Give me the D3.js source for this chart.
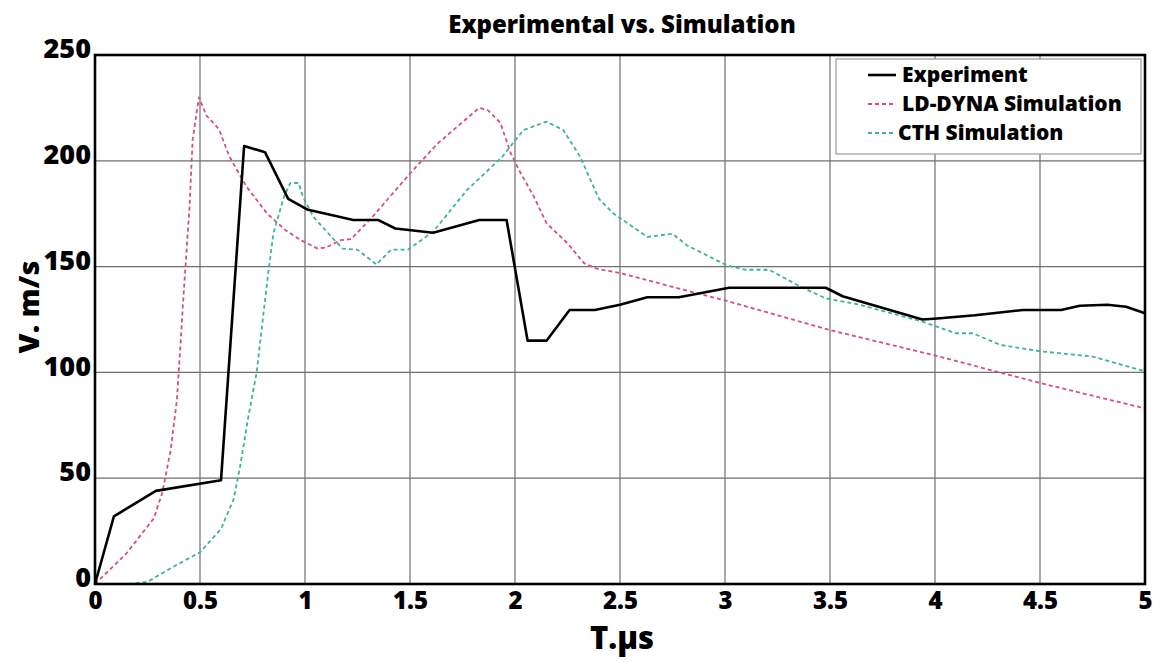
<!DOCTYPE html>
<html>
<head>
<meta charset="utf-8">
<script src="https://cdn.jsdelivr.net/npm/d3@7"></script>
<style>
  body { margin: 0; background: #fff; }
  svg text { font-family: "Open Sans", "Noto Sans", sans-serif; font-weight: 800; fill: #000; }
</style>
</head>
<body>
<div id="chart"></div>
<script>
// values
const expT = [0, 0.09, 0.29, 0.6, 0.71, 0.81, 0.92, 1.01, 1.23, 1.35, 1.43, 1.61, 1.83, 1.96, 2.06, 2.15, 2.26, 2.38, 2.5, 2.63, 2.78, 3.02, 3.48, 3.56, 3.94, 4.01, 4.19, 4.42, 4.6, 4.69, 4.82, 4.91, 5.0];
const expV = [0, 32, 44, 49, 207, 204, 182, 177, 172, 172, 168, 166, 172, 172, 115, 115, 129.5, 129.5, 132, 135.5, 135.5, 140, 140, 136, 125, 125.5, 127, 129.5, 129.5, 131.5, 132, 131, 128];

const dynaT = [0, 0.15, 0.28, 0.32, 0.36, 0.39, 0.405, 0.42, 0.45, 0.465, 0.495, 0.53, 0.59, 0.64, 0.72, 0.82, 0.91, 0.98, 1.06, 1.1, 1.17, 1.22, 1.33, 1.5, 1.63, 1.77, 1.83, 1.87, 1.93, 1.98, 2.02, 2.09, 2.15, 2.25, 2.33, 2.39, 2.5, 2.69, 3.0, 3.5, 4.0, 4.5, 5.0];
const dynaV = [0, 14.5, 31, 43, 63, 87, 110, 134, 178, 210, 230, 221.5, 215, 202, 188, 175, 167, 162.5, 158.5, 159, 162.5, 163, 174.5, 194, 208, 220, 225, 224, 218, 203.5, 195.5, 183, 170.5, 161, 151.5, 149, 147, 142, 134, 120, 108, 95, 83];

const cthT = [0.16, 0.25, 0.37, 0.5, 0.6, 0.66, 0.69, 0.73, 0.77, 0.8, 0.825, 0.85, 0.9, 0.93, 0.97, 0.99, 1.04, 1.14, 1.18, 1.25, 1.34, 1.41, 1.49, 1.61, 1.77, 1.94, 2.04, 2.15, 2.23, 2.31, 2.4, 2.47, 2.63, 2.75, 2.82, 3.01, 3.1, 3.21, 3.36, 3.48, 3.64, 3.94, 4.1, 4.18, 4.31, 4.5, 4.75, 5.0];
const cthV = [0, 1, 8, 15, 26, 40, 55, 79, 100, 126, 147, 166, 183, 189.5, 189.5, 183, 173.5, 162.5, 158.5, 158, 151, 158, 158, 166.5, 186, 202, 214.5, 218.5, 214.5, 202, 182, 175, 164, 165.5, 160, 150.5, 148.5, 148.5, 140.5, 135, 132, 124, 118.5, 118.5, 113, 110, 107.5, 100.5];

const xTicks = [0, 0.5, 1, 1.5, 2, 2.5, 3, 3.5, 4, 4.5, 5];
const yTicks = [0, 50, 100, 150, 200, 250];
const seriesNames = ["Experiment", "LD-DYNA Simulation", "CTH Simulation"];

const width = 1162,
  height = 662,
  margin = { top: 55, right: 17, bottom: 78, left: 95 };

const svg = d3.select("#chart").append("svg")
  .attr("width", width)
  .attr("height", height);

const x = d3.scaleLinear().domain([0, 5]).range([margin.left, width - margin.right]);
const y = d3.scaleLinear().domain([0, 250]).range([height - margin.bottom, margin.top]);

// grid
svg.append("g")
  .selectAll("line")
  .data(xTicks.slice(1, -1))
  .enter().append("line")
  .attr("x1", d => x(d)).attr("x2", d => x(d))
  .attr("y1", y(0)).attr("y2", y(250))
  .attr("stroke", "#6f6f6f")
  .attr("stroke-width", 1.2);

svg.append("g")
  .selectAll("line")
  .data(yTicks.slice(1, -1))
  .enter().append("line")
  .attr("x1", x(0)).attr("x2", x(5))
  .attr("y1", d => y(d)).attr("y2", d => y(d))
  .attr("stroke", "#6f6f6f")
  .attr("stroke-width", 1.2);

// axes (labels only, frame drawn separately)
const xAxis = svg.append("g")
  .attr("transform", `translate(0,${y(0)})`)
  .call(d3.axisBottom(x).tickValues(xTicks).tickSize(0).tickPadding(6).tickFormat(d3.format("~g")));
xAxis.select(".domain").remove();
xAxis.selectAll("text").style("font-size", "24px").attr("dy", "0.8em");

const yAxis = svg.append("g")
  .attr("transform", `translate(${x(0)},0)`)
  .call(d3.axisLeft(y).tickValues(yTicks).tickSize(0).tickPadding(4));
yAxis.select(".domain").remove();
yAxis.selectAll("text").style("font-size", "27px").attr("dy", "0.1em");

// series
const lineGen = d3.line()
  .x(d => x(d[0]))
  .y(d => y(d[1]));

const series = [
  { name: seriesNames[0], pts: d3.zip(expT, expV), color: "#000", w: 2.6, dash: null },
  { name: seriesNames[1], pts: d3.zip(dynaT, dynaV), color: "#d94f73", w: 1.8, dash: "4,3" },
  { name: seriesNames[2], pts: d3.zip(cthT, cthV), color: "#3bb3a0", w: 1.8, dash: "4,3" }
];

// draw sims first, experiment on top
[series[1], series[2], series[0]].forEach(s => {
  svg.append("path")
    .datum(s.pts)
    .attr("fill", "none")
    .attr("stroke", s.color)
    .attr("stroke-width", s.w)
    .attr("stroke-dasharray", s.dash)
    .attr("stroke-linejoin", "round")
    .attr("d", lineGen);
});

// frame
svg.append("rect")
  .attr("x", x(0)).attr("y", y(250))
  .attr("width", x(5) - x(0)).attr("height", y(0) - y(250))
  .attr("fill", "none")
  .attr("stroke", "#000")
  .attr("stroke-width", 2.6);

// legend
const legend = svg.append("g");
legend.append("rect")
  .attr("x", 836).attr("y", 59)
  .attr("width", 305).attr("height", 95)
  .attr("fill", "#fff")
  .attr("stroke", "#9a9a9a")
  .attr("stroke-width", 1.2);

const legendY = [75, 104, 133];
series.forEach((s, i) => {
  legend.append("line")
    .attr("x1", 868).attr("x2", 896)
    .attr("y1", legendY[i]).attr("y2", legendY[i])
    .attr("stroke", s.color)
    .attr("stroke-width", i === 0 ? 2.6 : 1.8)
    .attr("stroke-dasharray", s.dash);
  legend.append("text")
    .attr("x", i === 2 ? 898 : 902)
    .attr("y", legendY[i] + 7)
    .style("font-size", "21px")
    .text(s.name);
});

// titles
svg.append("text")
  .attr("x", 622).attr("y", 33)
  .attr("text-anchor", "middle")
  .style("font-size", "24px")
  .text("Experimental vs. Simulation");

svg.append("text")
  .attr("transform", "translate(39,307) rotate(-90)")
  .attr("text-anchor", "middle")
  .style("font-size", "29px")
  .text("V. m/s");

svg.append("text")
  .attr("x", 622).attr("y", 649)
  .attr("text-anchor", "middle")
  .style("font-size", "31px")
  .text("T.\u03bcs");
</script>
</body>
</html>
